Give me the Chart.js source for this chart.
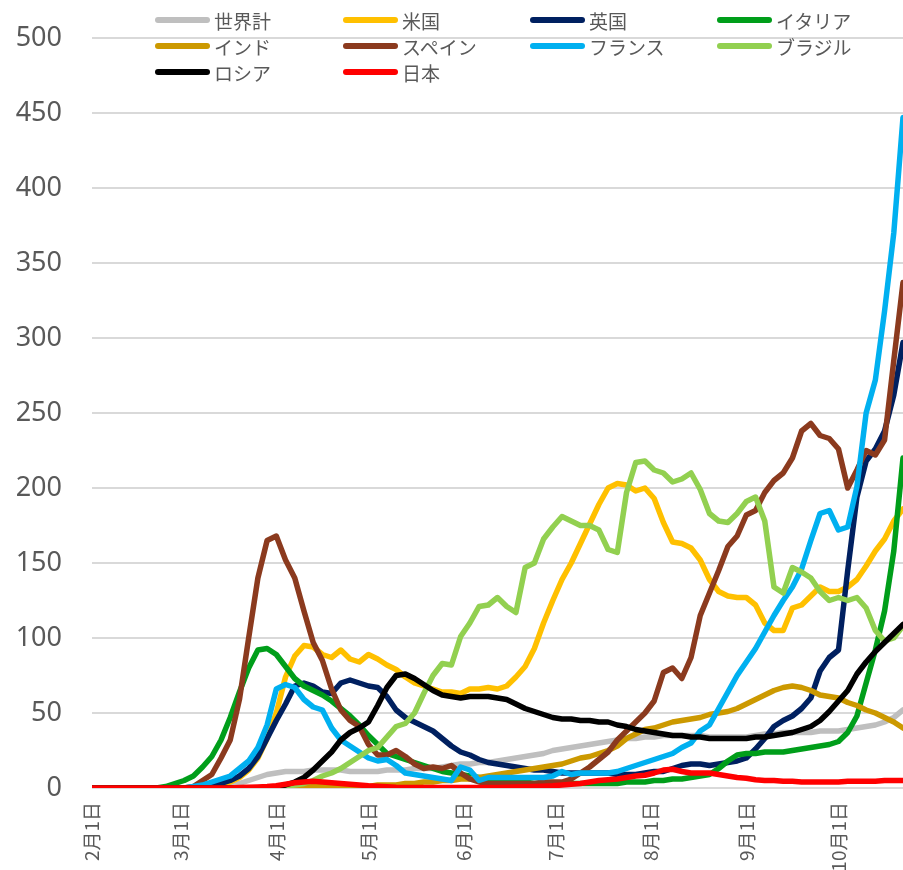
<!DOCTYPE html>
<html lang="ja">
<head>
<meta charset="utf-8">
<title>人口100万人あたり新規感染者数</title>
<script src="https://cdn.jsdelivr.net/npm/chart.js@4.4.1/dist/chart.umd.min.js"></script>
<style>
    html, body { margin: 0; padding: 0; background: #fff; }
    #wrap { position: relative; width: 903px; height: 870px; overflow: hidden; }
    #legend { position: absolute; left: 0; top: 0; width: 903px; height: 90px;
              font-family: 'Noto Sans CJK JP', sans-serif; font-size: 19px; color: #595959; }
    .item { position: absolute; display: flex; align-items: center; height: 24px; white-space: nowrap; }
    .swatch { width: 55px; height: 6px; border-radius: 3px; margin-right: 4px; }
</style>
</head>
<body>
<div id="wrap">
    <canvas id="chart" width="903" height="870"></canvas>
    <div id="legend"></div>
</div>
<script>
// ========================================================================
// 1. DATA (days since 2月1日, one sample every 3 days)
// ========================================================================
const days = [
    0, 3, 6, 9, 12, 15, 18, 21, 24, 27,
    30, 33, 36, 39, 42, 45, 48, 51, 54, 57,
    60, 63, 66, 69, 72, 75, 78, 81, 84, 87,
    90, 93, 96, 99, 102, 105, 108, 111, 114, 117,
    120, 123, 126, 129, 132, 135, 138, 141, 144, 147,
    150, 153, 156, 159, 162, 165, 168, 171, 174, 177,
    180, 183, 186, 189, 192, 195, 198, 201, 204, 207,
    210, 213, 216, 219, 222, 225, 228, 231, 234, 237,
    240, 243, 246, 249, 252, 255, 258, 261, 264
];

const monthTicks = [0, 29, 60, 90, 121, 151, 182, 213, 243];
const monthLabels = ['2月1日', '3月1日', '4月1日', '5月1日', '6月1日', '7月1日', '8月1日', '9月1日', '10月1日'];

const seriesNames = ['世界計', '米国', '英国', 'イタリア', 'インド', 'スペイン', 'フランス', 'ブラジル', 'ロシア', '日本'];
const seriesColors = ['#BFBFBF', '#FFC000', '#002060', '#009E1A', '#CC9900', '#8B3A1E', '#00B0F0', '#92D050', '#000000', '#FF0000'];

const world = [
    0, 0, 0, 0, 0, 0, 0, 0, 0, 0,
    0, 0, 0, 0, 1, 2, 3, 5, 7, 9,
    10, 11, 11, 11, 12, 12, 12, 12, 11, 11,
    11, 11, 12, 12, 12, 13, 13, 13, 14, 15,
    16, 16, 17, 17, 18, 19, 20, 21, 22, 23,
    25, 26, 27, 28, 29, 30, 31, 32, 33, 33,
    34, 34, 35, 35, 35, 35, 35, 34, 34, 34,
    34, 34, 35, 36, 36, 37, 37, 37, 37, 38,
    38, 38, 39, 40, 41, 42, 44, 47, 52
];
const usa = [
    0, 0, 0, 0, 0, 0, 0, 0, 0, 0,
    0, 0, 0, 1, 2, 4, 7, 12, 20, 33,
    50, 74, 88, 95, 94, 89, 87, 92, 86, 84,
    89, 86, 82, 79, 74, 70, 68, 66, 64, 64,
    63, 66, 66, 67, 66, 68, 74, 81, 93, 110,
    125, 139, 150, 163, 176, 189, 200, 203, 202, 198,
    200, 193, 177, 164, 163, 160, 152, 139, 131, 128,
    127, 127, 122, 110, 105, 105, 120, 122, 128, 134,
    131, 131, 134, 139, 148, 158, 166, 178, 186
];
const uk = [
    0, 0, 0, 0, 0, 0, 0, 0, 0, 0,
    0, 0, 1, 2, 3, 5, 8, 13, 21, 33,
    45, 56, 68, 70, 68, 64, 63, 70, 72, 70,
    68, 67, 61, 52, 47, 44, 41, 38, 33, 28,
    24, 22, 19, 17, 16, 15, 14, 13, 12, 12,
    11, 10, 10, 10, 10, 10, 10, 9, 9, 9,
    10, 11, 11, 13, 15, 16, 16, 15, 16, 17,
    18, 20, 26, 33, 41, 45, 48, 53, 60, 78,
    87, 92, 145, 194, 218, 226, 238, 262, 297
];
const italy = [
    0, 0, 0, 0, 0, 0, 0, 0, 1, 3,
    5, 8, 14, 21, 32, 47, 64, 80, 92, 93,
    89, 81, 73, 68, 65, 62, 58, 53, 48, 42,
    35, 29, 23, 21, 19, 17, 15, 13, 11, 10,
    9, 8, 7, 6, 5, 4, 4, 4, 3, 3,
    3, 3, 3, 3, 3, 3, 3, 3, 4, 4,
    4, 5, 5, 6, 6, 7, 8, 9, 13, 18,
    22, 23, 23, 24, 24, 24, 25, 26, 27, 28,
    29, 31, 37, 48, 70, 92, 118, 158, 220
];
const india = [
    0, 0, 0, 0, 0, 0, 0, 0, 0, 0,
    0, 0, 0, 0, 0, 0, 0, 0, 0, 0,
    0, 1, 1, 1, 1, 1, 1, 1, 1, 1,
    1, 2, 2, 2, 3, 3, 4, 4, 5, 5,
    6, 6, 7, 8, 9, 10, 11, 12, 13, 14,
    15, 16, 18, 20, 21, 23, 25, 28, 33, 36,
    39, 40, 42, 44, 45, 46, 47, 49, 50, 51,
    53, 56, 59, 62, 65, 67, 68, 67, 65, 62,
    61, 60, 57, 55, 52, 50, 47, 44, 40
];
const spain = [
    0, 0, 0, 0, 0, 0, 0, 0, 0, 0,
    0, 1, 5, 9, 20, 32, 59, 100, 140, 165,
    168, 152, 140, 118, 97, 85, 66, 52, 45, 41,
    29, 22, 22, 25, 21, 16, 13, 14, 13, 15,
    10, 6, 4, 3, 3, 3, 3, 3, 3, 4,
    4, 4, 6, 10, 14, 19, 24, 32, 38, 44,
    50, 58, 77, 80, 73, 87, 115, 130, 145, 161,
    168, 182, 185, 197, 205, 210, 220, 238, 243, 235,
    233, 226, 200, 212, 225, 222, 232, 285, 337
];
const france = [
    0, 0, 0, 0, 0, 0, 0, 0, 0, 0,
    0, 1, 2, 4, 6, 8, 13, 18, 27, 42,
    66, 69, 67, 59, 54, 52, 40, 32, 28, 24,
    20, 18, 19, 15, 10, 9, 8, 7, 6, 5,
    14, 12, 5, 7, 7, 7, 7, 7, 7, 7,
    8, 11, 9, 10, 10, 10, 10, 11, 13, 15,
    17, 19, 21, 23, 27, 30, 38, 42, 53, 64,
    75, 84, 93, 104, 115, 125, 134, 146, 165, 183,
    185, 172, 174, 201, 250, 272, 318, 370, 447
];
const brazil = [
    0, 0, 0, 0, 0, 0, 0, 0, 0, 0,
    0, 0, 0, 0, 0, 0, 0, 0, 0, 0,
    0, 1, 2, 3, 5, 8, 10, 13, 17, 21,
    25, 27, 34, 41, 43, 50, 63, 75, 83, 82,
    101, 110, 121, 122, 127, 121, 117, 147, 150, 166,
    174, 181, 178, 175, 175, 172, 159, 157, 197, 217,
    218, 212, 210, 204, 206, 210, 199, 183, 178, 177,
    183, 191, 194, 178, 134, 130, 147, 144, 140, 131,
    125, 127, 125, 127, 120, 105, 98, 100, 108
];
const russia = [
    0, 0, 0, 0, 0, 0, 0, 0, 0, 0,
    0, 0, 0, 0, 0, 0, 0, 0, 0, 0,
    1, 2, 4, 7, 12, 18, 24, 32, 37, 40,
    44, 55, 67, 75, 76, 73, 69, 65, 62, 61,
    60, 61, 61, 61, 60, 59, 56, 53, 51, 49,
    47, 46, 46, 45, 45, 44, 44, 42, 41, 39,
    38, 37, 36, 35, 35, 34, 34, 33, 33, 33,
    33, 33, 34, 34, 35, 36, 37, 39, 41, 45,
    51, 58, 65, 76, 84, 91, 97, 103, 109
];
const japan = [
    0, 0, 0, 0, 0, 0, 0, 0, 0, 0,
    0, 0, 0, 0, 0, 0, 0.3, 0.5, 0.7, 1,
    1.5, 2.5, 3.5, 4, 4.5, 4, 3.5, 3, 2.5, 2,
    1.5, 1.2, 0.8, 0.5, 0.4, 0.3, 0.3, 0.3, 0.3, 0.3,
    0.3, 0.3, 0.3, 0.4, 0.4, 0.5, 0.6, 0.8, 1, 1.2,
    1.5, 2, 2.5, 3, 4, 5, 5.5, 6, 7, 8,
    8.5, 10, 12, 12.5, 11, 10, 10, 10, 9, 8,
    7, 6.5, 5.5, 5, 5, 4.5, 4.5, 4, 4, 4,
    4, 4, 4.5, 4.5, 4.5, 4.5, 5, 5, 5
];

const seriesValues = [world, usa, uk, italy, india, spain, france, brazil, russia, japan];

// ========================================================================
// 2. LEGEND (4 columns, drawn over the top of the plot like in Excel)
// ========================================================================
function renderLegend() {
    const legend = document.getElementById('legend');
    const colX = [155, 343, 530, 717];
    const rowY = [8, 34, 60];
    legend.innerHTML = seriesNames.map((name, i) => `
        <div class="item" style="left:${colX[i % 4]}px; top:${rowY[Math.floor(i / 4)]}px">
            <span class="swatch" style="background:${seriesColors[i]}"></span>${name}
        </div>`).join('');
}

// ========================================================================
// 3. CHART
// ========================================================================
function renderChart() {
    const datasets = seriesNames.map((name, i) => ({
        label: name,
        data: days.map((d, j) => ({ x: d, y: seriesValues[i][j] })),
        borderColor: seriesColors[i],
        backgroundColor: seriesColors[i],
        borderWidth: 5.5,
        pointRadius: 0,
        tension: 0,
        borderJoinStyle: 'round',
        borderCapStyle: 'round',
        order: seriesNames.length - i // 日本 ends up on top
    }));

    new Chart(document.getElementById('chart'), {
        type: 'line',
        data: { datasets },
        options: {
            responsive: false,
            animation: false,
            layout: { padding: { top: 38, right: 0, bottom: 0, left: 0 } },
            plugins: { legend: { display: false }, tooltip: { enabled: false } },
            scales: {
                x: {
                    type: 'linear',
                    min: 0,
                    max: 264,
                    grid: { display: false },
                    border: { display: false },
                    afterBuildTicks: (scale) => { scale.ticks = monthTicks.map(v => ({ value: v })); },
                    afterFit: (scale) => {
                        scale.height = 82;
                        scale.paddingTop = 0;
                        scale.paddingBottom = 0;
                    },
                    ticks: {
                        autoSkip: false,
                        minRotation: 90,
                        maxRotation: 90,
                        padding: 6,
                        color: '#595959',
                        font: { family: "'Noto Sans CJK JP', sans-serif", size: 19 },
                        callback: (value) => monthLabels[monthTicks.indexOf(value)]
                    }
                },
                y: {
                    min: 0,
                    max: 500,
                    grid: { color: '#D9D9D9', lineWidth: 2, drawTicks: false },
                    border: { display: false },
                    afterFit: (scale) => {
                        scale.width = 92;
                        scale.paddingTop = 0;
                        scale.paddingBottom = 0;
                    },
                    ticks: {
                        stepSize: 50,
                        padding: 30,
                        color: '#595959',
                        font: { family: "'Noto Sans', sans-serif", size: 27 }
                    }
                }
            }
        }
    });
}

document.addEventListener('DOMContentLoaded', () => {
    renderChart();
    renderLegend();
});
</script>
</body>
</html>
